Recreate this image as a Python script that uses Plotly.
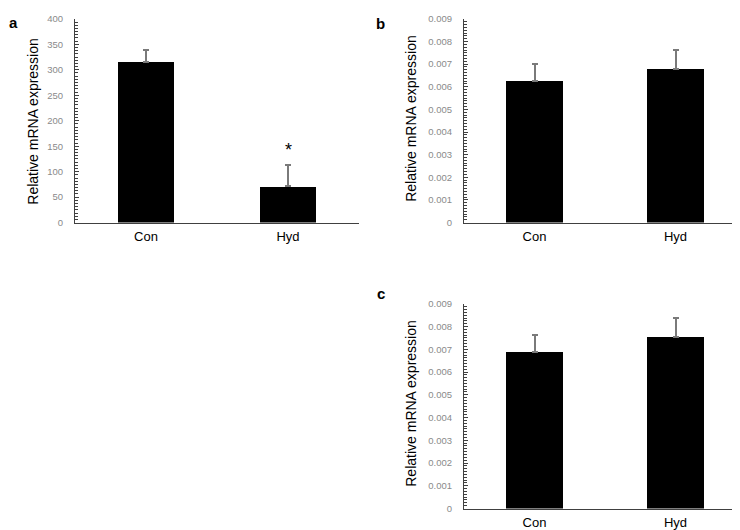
import plotly.graph_objects as go

categories = ["Con", "Hyd"]
a_values = [316, 71]
a_errors = [23, 42]
b_values = [0.00626, 0.00679]
b_errors = [0.00075, 0.00084]
c_values = [0.00687, 0.00753]
c_errors = [0.00077, 0.00084]
a_ticks = [0, 50, 100, 150, 200, 250, 300, 350, 400]
bc_ticks = [0, 0.001, 0.002, 0.003, 0.004, 0.005, 0.006, 0.007, 0.008, 0.009]
bc_ticktext = ["0", "0.001", "0.002", "0.003", "0.004", "0.005", "0.006", "0.007", "0.008", "0.009"]
y_title = "Relative mRNA expression"

W, H = 740, 530
FONT = "Liberation Sans, Arial, sans-serif"

def px_x(p):
    return p / W

def px_y(p):
    return 1 - p / H

fig = go.Figure()

panels = [
    ("", a_values, a_errors),
    ("2", b_values, b_errors),
    ("3", c_values, c_errors),
]
for suffix, vals, errs in panels:
    fig.add_trace(go.Bar(
        x=categories, y=vals, width=0.4,
        marker=dict(color="black", line=dict(width=0)),
        error_y=dict(type="data", array=errs, symmetric=False, arrayminus=[0, 0],
                     color="#7a7a7a", thickness=2, width=3),
        xaxis="x" + suffix, yaxis="y" + suffix, showlegend=False,
    ))

xcommon = dict(showline=True, linecolor="#404040", linewidth=1, ticks="",
               showgrid=False, zeroline=False, fixedrange=True,
               tickfont=dict(family=FONT, size=13, color="black"),
               ticklabelstandoff=2, range=[-0.5, 1.5])
ycommon = dict(showline=True, linecolor="#404040", linewidth=1, ticks="inside",
               ticklen=4, tickcolor="#404040", showgrid=False, zeroline=False,
               tickfont=dict(family=FONT, size=9.5, color="#8a8a8a"),
               ticklabelstandoff=9)

ya_dom = [px_y(213), px_y(5)]
yc_dom = [px_y(505), px_y(296)]

fig.update_layout(
    width=W, height=H,
    margin=dict(l=0, r=0, t=0, b=0),
    paper_bgcolor="white", plot_bgcolor="white",
    bargap=0,
    xaxis=dict(domain=[px_x(67), px_x(351)], anchor="y", **xcommon),
    yaxis=dict(domain=ya_dom, anchor="x", range=[0, 400], tickvals=a_ticks,
               minor=dict(dtick=6.25, ticklen=3, ticks="inside", tickcolor="#404040"),
               **ycommon),
    xaxis2=dict(domain=[px_x(456), px_x(738)], anchor="y2", **xcommon),
    yaxis2=dict(domain=ya_dom, anchor="x2", range=[0, 0.009], tickvals=bc_ticks,
                ticktext=bc_ticktext,
                minor=dict(dtick=0.000125, ticklen=3, ticks="inside", tickcolor="#404040"),
                **ycommon),
    xaxis3=dict(domain=[px_x(456), px_x(738)], anchor="y3", **xcommon),
    yaxis3=dict(domain=yc_dom, anchor="x3", range=[0, 0.009], tickvals=bc_ticks,
                ticktext=bc_ticktext,
                minor=dict(dtick=0.000125, ticklen=3, ticks="inside", tickcolor="#404040"),
                **ycommon),
)

# y-axis titles
for xc, yc in [(25, 110), (403, 107), (403, 398)]:
    fig.add_annotation(text=y_title, x=px_x(xc), y=px_y(yc), xref="paper", yref="paper",
                       textangle=-90, showarrow=False,
                       font=dict(family=FONT, size=14, color="black"),
                       xanchor="center", yanchor="middle")

# panel labels
for lab, xc, yc in [("a", 5, 9), ("b", 372, 10), ("c", 373, 285)]:
    fig.add_annotation(text="<b>" + lab + "</b>", x=px_x(xc), y=px_y(yc), xref="paper",
                       yref="paper", showarrow=False,
                       font=dict(family=FONT, size=15, color="black"),
                       xanchor="center", yanchor="middle")

# significance star
fig.add_annotation(text="*", x="Hyd", y=a_values[1] + a_errors[1] + 30, xref="x", yref="y",
                   showarrow=False, font=dict(family=FONT, size=18, color="black"),
                   xanchor="center", yanchor="middle")

fig.write_html("out.html")
